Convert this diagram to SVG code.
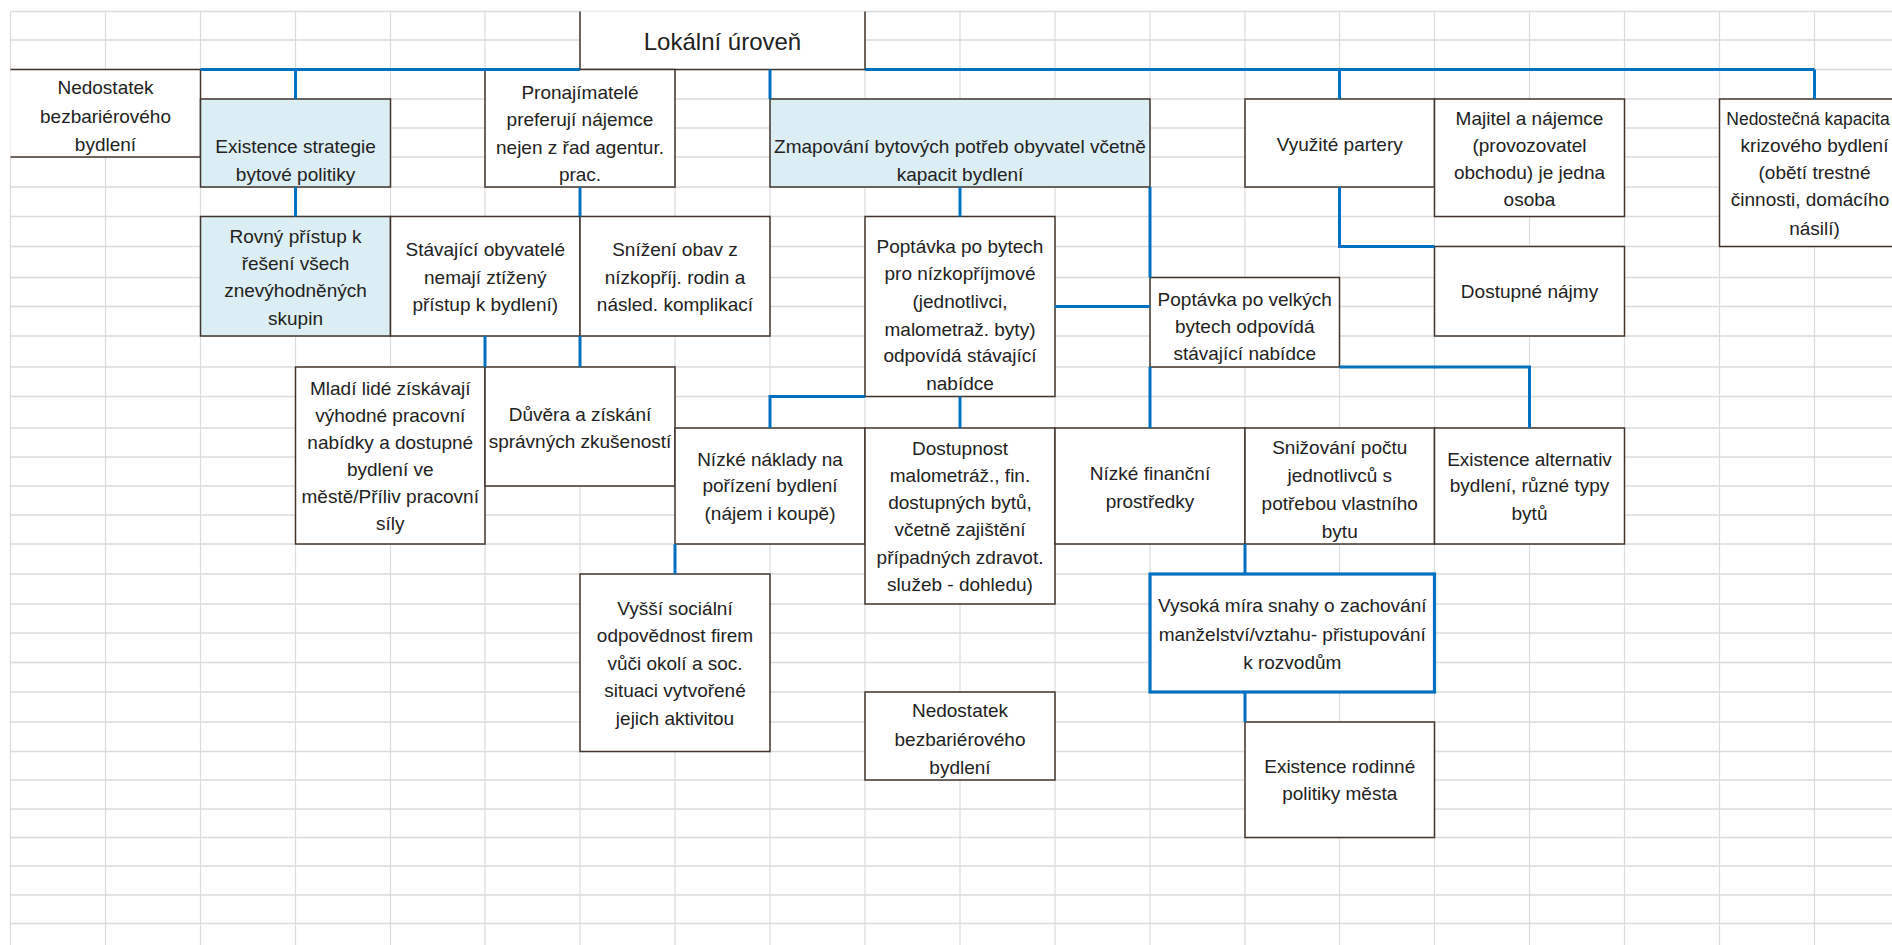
<svg xmlns="http://www.w3.org/2000/svg" width="1892" height="945" viewBox="0 0 1892 945">
<style>
.grid{stroke:#dcdcdc;fill:none}
.gv{stroke-width:1.2}
.gh{stroke-width:1.6}
.box{fill:#ffffff;stroke:#40342c;stroke-width:1.5}
.hl{fill:#daeef3;stroke:#40342c;stroke-width:1.5}
.edge{stroke:#40342c;stroke-width:1.5;fill:none}
.c{stroke:#0070c0;stroke-width:3;fill:none}
.bb{fill:#ffffff;stroke:#0070c0;stroke-width:3.2}
text{font-family:"Liberation Sans",Arial,sans-serif;font-size:19px;fill:#222;text-anchor:middle}
.title{font-size:24px}
.sm{font-size:17.5px}
</style>
<rect width="1892" height="945" fill="#ffffff"/>
<g id="grid" class="grid">
<path class="gv" d="M10.5,11.5V945M105.5,11.5V945M200.5,11.5V945M295.5,11.5V945M390.5,11.5V945M485,11.5V945M580,11.5V945M675,11.5V945M770,11.5V945M865,11.5V945M960,11.5V945M1055,11.5V945M1150,11.5V945M1245,11.5V945M1339.5,11.5V945M1434.5,11.5V945M1529.5,11.5V945M1624.5,11.5V945M1719.5,11.5V945M1814.5,11.5V945"/>
<path class="gh" d="M10.5,11.5H1892M10.5,40H1892M10.5,69.5H1892M10.5,99H1892M10.5,128H1892M10.5,157H1892M10.5,187H1892M10.5,216.5H1892M10.5,246.5H1892M10.5,277.5H1892M10.5,306.5H1892M10.5,336H1892M10.5,367H1892M10.5,396.5H1892M10.5,428H1892M10.5,457H1892M10.5,486H1892M10.5,515H1892M10.5,544H1892M10.5,574H1892M10.5,604H1892M10.5,633H1892M10.5,662.5H1892M10.5,692H1892M10.5,722H1892M10.5,751.5H1892M10.5,780H1892M10.5,809H1892M10.5,837.5H1892M10.5,866H1892M10.5,895H1892M10.5,923.5H1892"/>
</g>
<g id="title">
<rect x="580" y="11.5" width="285" height="58" fill="#ffffff"/>
<path class="edge" d="M580,11.5V69.5H865V11.5"/>
<text class="title" x="722.5" y="50">Lokální úroveň</text>
</g>
<g id="n-nedostatek-1">
<rect x="10.5" y="69.5" width="190" height="87.5" fill="#ffffff"/>
<path class="edge" d="M10.5,69.5H200.5V157H10.5"/>
<text x="105.5"><tspan x="105.5" y="94.3">Nedostatek</tspan><tspan x="105.5" y="122.8">bezbariérového</tspan><tspan x="105.5" y="151.3">bydlení</tspan></text>
</g>
<g id="n-existence-strategie">
<rect class="hl" x="200.5" y="99" width="190" height="88"/>
<text><tspan x="295.5" y="153">Existence strategie</tspan><tspan x="295.5" y="181.3">bytové politiky</tspan></text>
</g>
<g id="n-pronajimatele">
<rect class="box" x="485" y="69.5" width="190" height="117.5"/>
<text><tspan x="580" y="98.5">Pronajímatelé</tspan><tspan x="580" y="126.2">preferují nájemce</tspan><tspan x="580" y="154">nejen z řad agentur.</tspan><tspan x="580" y="181.3">prac.</tspan></text>
</g>
<g id="n-zmapovani">
<rect class="hl" x="770" y="99" width="380" height="88"/>
<text><tspan x="960" y="153">Zmapování bytových potřeb obyvatel včetně</tspan><tspan x="960" y="181.3">kapacit bydlení</tspan></text>
</g>
<g id="n-vyuzite">
<rect class="box" x="1245" y="99" width="189.5" height="88"/>
<text x="1339.75" y="151.3">Využité partery</text>
</g>
<g id="n-majitel">
<rect class="box" x="1434.5" y="99" width="190" height="117.5"/>
<text><tspan x="1529.5" y="124.6">Majitel a nájemce</tspan><tspan x="1529.5" y="151.6">(provozovatel</tspan><tspan x="1529.5" y="179">obchodu) je jedna</tspan><tspan x="1529.5" y="206.3">osoba</tspan></text>
</g>
<g id="n-nedostecna">
<rect class="box" x="1719.5" y="99" width="195" height="147.5"/>
<text><tspan class="sm" x="1808" y="124.6">Nedostečná kapacita</tspan><tspan x="1814.5" y="151.6">krizového bydlení</tspan><tspan x="1814.5" y="179">(obětí trestné</tspan><tspan x="1810" y="206.3">činnosti, domácího</tspan><tspan x="1814.5" y="235">násilí)</tspan></text>
</g>
<g id="n-rovny">
<rect class="hl" x="200.5" y="216.5" width="190" height="119.5"/>
<text><tspan x="295.5" y="243">Rovný přístup k</tspan><tspan x="295.5" y="269.8">řešení všech</tspan><tspan x="295.5" y="297">znevýhodněných</tspan><tspan x="295.5" y="324.5">skupin</tspan></text>
</g>
<g id="n-stavajici">
<rect class="box" x="390.5" y="216.5" width="189.5" height="119.5"/>
<text><tspan x="485.25" y="256.3">Stávající obyvatelé</tspan><tspan x="485.25" y="283.6">nemají ztížený</tspan><tspan x="485.25" y="311.3">přístup k bydlení)</tspan></text>
</g>
<g id="n-snizeni-obav">
<rect class="box" x="580" y="216.5" width="190" height="119.5"/>
<text><tspan x="675" y="256.3">Snížení obav z</tspan><tspan x="675" y="283.6">nízkopříj. rodin a</tspan><tspan x="675" y="311.3">násled. komplikací</tspan></text>
</g>
<g id="n-poptavka-nizkoprijmove">
<rect class="box" x="865" y="216.5" width="190" height="180"/>
<text><tspan x="960" y="253">Poptávka po bytech</tspan><tspan x="960" y="280.4">pro nízkopříjmové</tspan><tspan x="960" y="308">(jednotlivci,</tspan><tspan x="960" y="335.5">malometraž. byty)</tspan><tspan x="960" y="362.4">odpovídá stávající</tspan><tspan x="960" y="389.6">nabídce</tspan></text>
</g>
<g id="n-dostupne-najmy">
<rect class="box" x="1434.5" y="246.5" width="190" height="89.5"/>
<text x="1529.5" y="298">Dostupné nájmy</text>
</g>
<g id="n-poptavka-velkych">
<rect class="box" x="1150" y="277.5" width="189.5" height="89.5"/>
<text><tspan x="1244.75" y="305.6">Poptávka po velkých</tspan><tspan x="1244.75" y="333">bytech odpovídá</tspan><tspan x="1244.75" y="360.3">stávající nabídce</tspan></text>
</g>
<g id="n-mladi">
<rect class="box" x="295.5" y="367" width="189.5" height="177"/>
<text><tspan x="390.25" y="394.6">Mladí lidé získávají</tspan><tspan x="390.25" y="421.5">výhodné pracovní</tspan><tspan x="390.25" y="449">nabídky a dostupné</tspan><tspan x="390.25" y="475.8">bydlení ve</tspan><tspan x="390.25" y="503">městě/Příliv pracovní</tspan><tspan x="390.25" y="529.6">síly</tspan></text>
</g>
<g id="n-duvera">
<rect class="box" x="485" y="367" width="190" height="119"/>
<text><tspan x="580" y="420.6">Důvěra a získání</tspan><tspan x="580" y="448">správných zkušeností</tspan></text>
</g>
<g id="n-nizke-naklady">
<rect class="box" x="675" y="428" width="190" height="116"/>
<text><tspan x="770" y="465.6">Nízké náklady na</tspan><tspan x="770" y="492.4">pořízení bydlení</tspan><tspan x="770" y="519.6">(nájem i koupě)</tspan></text>
</g>
<g id="n-dostupnost">
<rect class="box" x="865" y="428" width="190" height="176"/>
<text><tspan x="960" y="454.6">Dostupnost</tspan><tspan x="960" y="482.3">malometráž., fin.</tspan><tspan x="960" y="509">dostupných bytů,</tspan><tspan x="960" y="536.3">včetně zajištění</tspan><tspan x="960" y="563.6">případných zdravot.</tspan><tspan x="960" y="591">služeb - dohledu)</tspan></text>
</g>
<g id="n-nizke-financni">
<rect class="box" x="1055" y="428" width="190" height="116"/>
<text><tspan x="1150" y="479.6">Nízké finanční</tspan><tspan x="1150" y="508">prostředky</tspan></text>
</g>
<g id="n-snizovani">
<rect class="box" x="1245" y="428" width="189.5" height="116"/>
<text><tspan x="1339.75" y="454">Snižování počtu</tspan><tspan x="1339.75" y="482.3">jednotlivců s</tspan><tspan x="1339.75" y="509.6">potřebou vlastního</tspan><tspan x="1339.75" y="537.5">bytu</tspan></text>
</g>
<g id="n-existence-alternativ">
<rect class="box" x="1434.5" y="428" width="190" height="116"/>
<text><tspan x="1529.5" y="465.6">Existence alternativ</tspan><tspan x="1529.5" y="492.4">bydlení, různé typy</tspan><tspan x="1529.5" y="519.6">bytů</tspan></text>
</g>
<g id="n-vyssi">
<rect class="box" x="580" y="574" width="190" height="177.5"/>
<text><tspan x="675" y="614.6">Vyšší sociální</tspan><tspan x="675" y="642.3">odpovědnost firem</tspan><tspan x="675" y="669.6">vůči okolí a soc.</tspan><tspan x="675" y="697">situaci vytvořené</tspan><tspan x="675" y="724.6">jejich aktivitou</tspan></text>
</g>
<g id="n-nedostatek-2">
<rect class="box" x="865" y="692" width="190" height="88"/>
<text><tspan x="960" y="717">Nedostatek</tspan><tspan x="960" y="745.5">bezbariérového</tspan><tspan x="960" y="773.5">bydlení</tspan></text>
</g>
<g id="n-existence-rodinne">
<rect class="box" x="1245" y="722" width="189.5" height="115.5"/>
<text><tspan x="1339.75" y="773">Existence rodinné</tspan><tspan x="1339.75" y="800.3">politiky města</tspan></text>
</g>
<g id="connectors" class="c">
<path d="M200.5,69.5H580"/>
<path d="M865,69.5H1814.5"/>
<path d="M295.5,69.5V99"/>
<path d="M770,69.5V99"/>
<path d="M1339.5,69.5V99"/>
<path d="M1814.5,69.5V99"/>
<path d="M295.5,187V216.5"/>
<path d="M580,187V216.5"/>
<path d="M960,187V216.5"/>
<path d="M1150,187V277.5"/>
<path d="M1339.5,187V246.5H1434.5"/>
<path d="M1055,306.5H1150"/>
<path d="M485,336V367"/>
<path d="M580,336V367"/>
<path d="M770,428V396.5H865"/>
<path d="M960,396.5V428"/>
<path d="M1150,367V428"/>
<path d="M1339.5,367H1529.5V428"/>
<path d="M675,544V574"/>
<path d="M1245,544V574"/>
<path d="M1245,692V722"/>
</g>
<g id="n-vysoka">
<rect class="bb" x="1150" y="574" width="284.5" height="118"/>
<text><tspan x="1292.25" y="612.3">Vysoká míra snahy o zachování</tspan><tspan x="1292.25" y="640.6">manželství/vztahu- přistupování</tspan><tspan x="1292.25" y="669">k rozvodům</tspan></text>
</g>
</svg>
